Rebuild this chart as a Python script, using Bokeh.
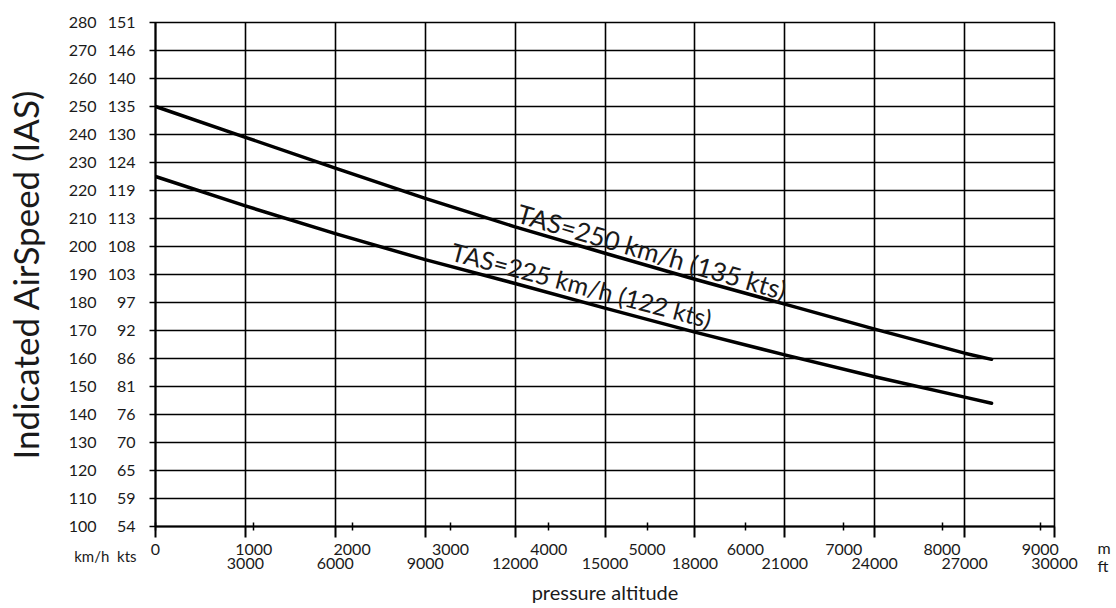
import math
from bokeh.plotting import figure
from bokeh.models import Range1d, LinearAxis, FixedTicker, Grid, Label, CustomJSTickFormatter
from bokeh.embed import file_html
from bokeh.resources import INLINE

FT_PER_M = 3.28084

# pressure altitude (ft) and indicated airspeed (km/h)
alt_ft = [0, 3000, 6000, 9000, 12000, 15000, 18000, 21000, 24000, 27000, 27900]
ias_tas250 = [250, 239.0, 228.0, 217.2, 207.0, 197.6, 188.3, 179.4, 170.5, 161.9, 159.7]
ias_tas225 = [225, 214.5, 204.6, 195.3, 186.8, 178.0, 169.4, 161.3, 153.5, 146.2, 144.0]

label_250 = "TAS=250 km/h (135 kts)"
label_225 = "TAS=225 km/h (122 kts)"

kmh_ticks = [100, 110, 120, 130, 140, 150, 160, 170, 180, 190, 200, 210, 220, 230, 240, 250, 260, 270, 280]
kts_labels = ["54", "59", "65", "70", "76", "81", "86", "92", "97", "103", "108", "113", "119",
              "124", "130", "135", "140", "146", "151"]
m_ticks = [0, 1000, 2000, 3000, 4000, 5000, 6000, 7000, 8000, 9000]
ft_ticks = [0, 3000, 6000, 9000, 12000, 15000, 18000, 21000, 24000, 27000, 30000]

FONT = "Lato"
TXT = "#1a1a1a"

# frame geometry helpers (screen px -> data) for annotations
X0, PXX = 154.0, 0.03      # frame left px, px per ft
Y0, PXY = 526.0, 2.8       # frame bottom px, px per km/h


def dx(px):
    return (px - X0) / PXX


def dy(py):
    return 100 + (Y0 - py) / PXY


p = figure(width=1112, height=606, x_range=Range1d(0, 30000), y_range=Range1d(100, 280),
           output_backend="svg", toolbar_location=None, x_axis_type=None, y_axis_type=None,
           min_border_left=154, min_border_right=58, min_border_top=22, min_border_bottom=80)
p.outline_line_color = "black"
p.outline_line_width = 1.6
p.background_fill_color = "white"
p.border_fill_color = "white"

# grids
p.add_layout(Grid(dimension=0, ticker=FixedTicker(ticks=ft_ticks[1:]),
                  grid_line_color="black", grid_line_width=1.6))
p.add_layout(Grid(dimension=1, ticker=FixedTicker(ticks=kmh_ticks[1:]),
                  grid_line_color="black", grid_line_width=1.6))


def style_labels(ax):
    ax.major_label_text_font = FONT
    ax.major_label_text_font_size = "16px"
    ax.major_label_text_color = TXT


# left axes: kts (closest), then km/h
kts_axis = LinearAxis(ticker=FixedTicker(ticks=kmh_ticks),
                      major_label_overrides={k: v for k, v in zip(kmh_ticks, kts_labels)})
kts_axis.axis_line_color = "black"
kts_axis.axis_line_width = 2
kts_axis.major_tick_in = 0
kts_axis.major_tick_out = 6
kts_axis.major_tick_line_width = 1.6
kts_axis.minor_tick_line_color = None
kts_axis.major_label_standoff = 14
style_labels(kts_axis)
p.add_layout(kts_axis, "left")

kmh_axis = LinearAxis(ticker=FixedTicker(ticks=kmh_ticks), axis_label="Indicated AirSpeed (IAS)")
kmh_axis.axis_line_color = None
kmh_axis.major_tick_line_color = None
kmh_axis.major_tick_in = 0
kmh_axis.major_tick_out = 0
kmh_axis.minor_tick_line_color = None
kmh_axis.major_label_standoff = 8
kmh_axis.axis_label_standoff = 20
kmh_axis.axis_label_text_font = FONT
kmh_axis.axis_label_text_font_size = "35px"
kmh_axis.axis_label_text_font_style = "normal"
kmh_axis.axis_label_text_color = TXT
style_labels(kmh_axis)
p.add_layout(kmh_axis, "left")

# bottom axes: metres (closest, with long ft ticks as minor ticks), then feet labels
m_axis = LinearAxis(ticker=FixedTicker(ticks=[m * FT_PER_M for m in m_ticks], minor_ticks=ft_ticks),
                    formatter=CustomJSTickFormatter(code="return String(Math.round(tick / 3.28084 / 100) * 100);"))
m_axis.axis_line_color = "black"
m_axis.axis_line_width = 2
m_axis.major_tick_in = 4
m_axis.major_tick_out = 4
m_axis.major_tick_line_width = 1.5
m_axis.minor_tick_in = 0
m_axis.minor_tick_out = 11
m_axis.minor_tick_line_width = 2
m_axis.minor_tick_line_color = "black"
m_axis.major_label_standoff = 6
style_labels(m_axis)
p.add_layout(m_axis, "below")

ft_axis = LinearAxis(ticker=FixedTicker(ticks=ft_ticks[1:]),
                     formatter=CustomJSTickFormatter(code="return String(Math.round(tick));"),
                     axis_label="pressure altitude")
ft_axis.axis_line_color = None
ft_axis.major_tick_line_color = None
ft_axis.major_tick_in = 0
ft_axis.major_tick_out = 0
ft_axis.minor_tick_line_color = None
ft_axis.major_label_standoff = 0
ft_axis.axis_label_standoff = 8
ft_axis.axis_label_text_font = FONT
ft_axis.axis_label_text_font_size = "20px"
ft_axis.axis_label_text_font_style = "normal"
ft_axis.axis_label_text_color = TXT
style_labels(ft_axis)
p.add_layout(ft_axis, "below")

# curves
p.line(alt_ft, ias_tas250, line_width=3.5, line_color="black", line_cap="round", line_join="round")
p.line(alt_ft, ias_tas225, line_width=3.5, line_color="black", line_cap="round", line_join="round")

# curve labels
p.add_layout(Label(x=dx(517), y=dy(212), text=label_250, angle=math.radians(-16.3),
                   text_font=FONT, text_font_size="26px", text_color=TXT,
                   text_align="left", text_baseline="alphabetic"))
p.add_layout(Label(x=dx(451), y=dy(250), text=label_225, angle=math.radians(-14.8),
                   text_font=FONT, text_font_size="25px", text_color=TXT,
                   text_align="left", text_baseline="alphabetic"))

# unit labels outside the frame (placed in side panels with spare room so they are not clipped)
p.add_layout(Label(x=dx(135), y=dy(555), text="km/h\u00a0\u00a0kts", text_font=FONT,
                   text_font_size="15px", text_color=TXT, text_align="right",
                   text_baseline="middle"), "above")
p.add_layout(Label(x=dx(1097), y=dy(547), text="m", text_font=FONT, text_font_size="16px",
                   text_color=TXT, text_align="left", text_baseline="middle"), "right")
p.add_layout(Label(x=dx(1097), y=dy(565), text="ft", text_font=FONT, text_font_size="16px",
                   text_color=TXT, text_align="left", text_baseline="middle"), "right")

open("out.html", "w").write(file_html(p, INLINE))
